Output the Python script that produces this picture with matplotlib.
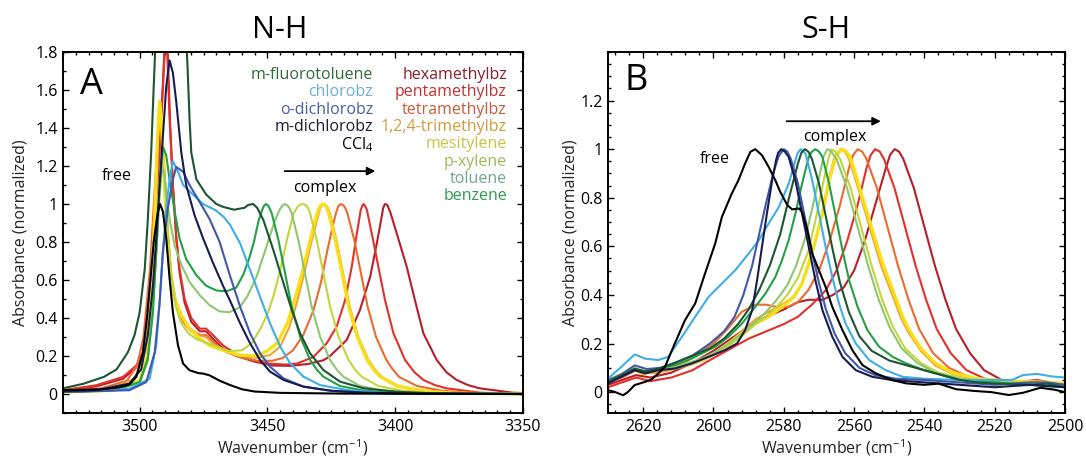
import matplotlib
matplotlib.use("Agg")
import matplotlib.pyplot as plt
from matplotlib.ticker import MultipleLocator, FuncFormatter

plt.rcParams['font.family'] = ['Open Sans', 'DejaVu Sans']
plt.rcParams['mathtext.fontset'] = 'custom'
plt.rcParams['mathtext.rm'] = 'Open Sans'
plt.rcParams['mathtext.it'] = 'Open Sans:italic'

# ---------------- solvent names and colours ----------------
solvents = ["hexamethylbz", "pentamethylbz", "tetramethylbz", "1,2,4-trimethylbz",
            "mesitylene", "p-xylene", "toluene", "benzene", "chlorobz",
            "o-dichlorobz", "m-fluorotoluene", "m-dichlorobz", "CCl4"]
line_colors = ["#b81e28", "#e4302a", "#ec6a2e", "#f2a22c", "#f7e01a", "#c2d63c",
               "#8ec86e", "#22a044", "#3eaee6", "#3f58aa", "#1c5530", "#161c50", "#000000"]
left_labels = ["m-fluorotoluene", "chlorobz", "o-dichlorobz", "m-dichlorobz", "CCl$_4$"]
left_label_colors = ["#2d6b3a", "#6aaed6", "#4a5ea8", "#1a1a30", "#000000"]
right_labels = ["hexamethylbz", "pentamethylbz", "tetramethylbz", "1,2,4-trimethylbz",
                "mesitylene", "p-xylene", "toluene", "benzene"]
right_label_colors = ["#8e1c2a", "#c4302e", "#cc5a3c", "#d49a38", "#c8c540",
                      "#9cbb55", "#6aa88a", "#2e9a4e"]

# ---------------- Panel A: N-H stretch (wavenumber, absorbance) ----------------
nh_ccl4 = [(3530,0.02),(3515,0.025),(3508,0.035),(3504,0.05),(3501.3,0.09),(3498.7,0.22),(3497,0.42),(3496,0.57),(3494.5,0.8),(3493,0.95),(3492,1.0),(3490.9,0.96),(3489.6,0.82),(3488.3,0.61),(3487,0.43),(3485,0.256),(3483,0.16),(3480.5,0.125),(3477,0.11),(3475,0.107),(3472.6,0.098),(3468.7,0.07),(3464.6,0.047),(3460,0.025),(3455,0.013),(3445,0.006),(3420,0.002),(3350,0.0)]
nh_mdcb = [(3530,0.015),(3517,0.02),(3504,0.055),(3499.4,0.13),(3496.8,0.31),(3494.8,0.57),(3493.5,0.82),(3492.2,1.10),(3490.9,1.36),(3489.6,1.62),(3488.3,1.756),(3487,1.69),(3485.7,1.54),(3483.7,1.27),(3481.8,1.10),(3478.5,0.94),(3475.2,0.82),(3471.3,0.69),(3467.4,0.57),(3464.6,0.49),(3460.7,0.372),(3456.8,0.267),(3452.9,0.179),(3449,0.118),(3443.7,0.074),(3436,0.039),(3425.5,0.018),(3412.4,0.007),(3390,0.002),(3350,0.0)]
nh_odcb = [(3530,0.01),(3504,0.02),(3497.4,0.063),(3494.1,0.22),(3492.2,0.48),(3490.9,0.75),(3489,0.975),(3487,1.13),(3485.7,1.195),(3483,1.17),(3480.5,1.10),(3476.5,1.01),(3472.6,0.92),(3468.7,0.80),(3464.6,0.62),(3460.7,0.46),(3456.8,0.32),(3452.9,0.214),(3449,0.144),(3443.7,0.082),(3436,0.039),(3425,0.016),(3412,0.006),(3390,0.001),(3350,0.0)]
nh_clbz = [(3530,0.015),(3504,0.028),(3496.1,0.08),(3493.5,0.256),(3492.2,0.48),(3490.9,0.75),(3489.6,0.975),(3488.3,1.13),(3487,1.225),(3485,1.17),(3483,1.10),(3479.2,1.05),(3475.2,1.0),(3470,0.965),(3467,0.93),(3464.6,0.89),(3460.7,0.793),(3456.8,0.653),(3452.9,0.512),(3449,0.372),(3445,0.249),(3441.1,0.161),(3435.9,0.091),(3429.4,0.047),(3419,0.021),(3406,0.007),(3385,0.001),(3350,0.0)]
nh_mft = [(3530,0.03),(3522,0.054),(3514,0.09),(3509,0.13),(3504.6,0.22),(3502,0.31),(3500,0.43),(3498,0.66),(3496.8,0.92),(3495.5,1.27),(3494.5,1.62),(3493.5,1.95),(3490,2.4),(3485,2.4),(3482,1.95),(3481.2,1.7),(3480.5,1.45),(3479.8,1.27),(3477.8,1.13),(3474,1.05),(3470,1.0),(3467.4,0.985),(3463,0.97),(3459,0.98),(3457.5,0.995),(3455.6,1.0),(3454,0.98),(3451.6,0.916),(3447.7,0.758),(3443.7,0.582),(3440.5,0.442),(3437.2,0.319),(3433.3,0.214),(3428.1,0.126),(3421.6,0.065),(3412.4,0.03),(3399.4,0.012),(3386.4,0.004),(3350,0.0)]
nh_benz = [(3530,0.01),(3510,0.02),(3500,0.063),(3496.8,0.186),(3494.8,0.43),(3493.5,0.75),(3492.2,1.10),(3490.9,1.30),(3489.6,1.256),(3488.3,1.13),(3486.3,0.96),(3484.4,0.82),(3481.8,0.71),(3477.8,0.625),(3474,0.57),(3470,0.545),(3466.1,0.54),(3462.2,0.56),(3459.4,0.63),(3457,0.72),(3455.3,0.80),(3453.5,0.91),(3452.3,0.96),(3451.4,0.99),(3450.6,1.0),(3449.6,0.99),(3448.3,0.95),(3445.7,0.81),(3443.1,0.635),(3440.5,0.46),(3437.2,0.302),(3433.3,0.179),(3430.5,0.125),(3428.1,0.091),(3421.6,0.042),(3412.4,0.018),(3399.4,0.004),(3350,0.0)]
nh_tol = [(3530,0.01),(3510,0.02),(3500,0.06),(3497,0.17),(3495,0.42),(3493.5,0.75),(3492.2,1.05),(3491.3,1.19),(3490.3,1.16),(3489.6,1.06),(3488.3,0.92),(3486.3,0.78),(3483.7,0.68),(3480.5,0.59),(3476.5,0.52),(3472.6,0.467),(3468.7,0.435),(3465,0.43),(3461,0.455),(3458,0.51),(3454.2,0.62),(3450.3,0.78),(3447,0.916),(3445,0.975),(3444,0.993),(3443.1,1.0),(3442,0.99),(3441.2,0.975),(3440.5,0.95),(3437.9,0.81),(3435.3,0.635),(3432.7,0.46),(3429.4,0.302),(3425.5,0.179),(3422.7,0.125),(3420.3,0.091),(3413.8,0.042),(3404.6,0.018),(3391.6,0.004),(3350,0.0)]
nh_pxy = [(3530,0.01),(3510,0.02),(3500,0.06),(3497,0.17),(3495,0.42),(3493.5,0.75),(3492.2,1.05),(3491.3,1.22),(3490.3,1.15),(3489.6,1.0),(3488.6,0.8),(3487.5,0.62),(3486,0.47),(3484,0.38),(3481,0.32),(3478,0.29),(3474,0.27),(3470,0.25),(3465,0.225),(3460,0.23),(3456,0.27),(3452.5,0.35),(3450,0.42),(3447.7,0.512),(3445,0.653),(3442.4,0.81),(3439.8,0.95),(3438.2,0.985),(3437.2,0.997),(3436.2,1.0),(3435,0.995),(3434.2,0.98),(3433.3,0.95),(3430.7,0.81),(3428.1,0.635),(3425.5,0.46),(3422.2,0.302),(3418.3,0.179),(3415.5,0.125),(3413.1,0.091),(3406.6,0.042),(3397.5,0.018),(3384.4,0.004),(3350,0.0)]
nh_mes = [(3530,0.01),(3510,0.02),(3500,0.07),(3497,0.2),(3495.5,0.5),(3494,0.95),(3493,1.35),(3492.2,1.54),(3491.5,1.45),(3490.9,1.27),(3489.6,0.92),(3488.3,0.66),(3486.3,0.5),(3483.7,0.414),(3480.5,0.344),(3476.5,0.29),(3472.6,0.256),(3467.4,0.23),(3461,0.205),(3455,0.2),(3450.3,0.225),(3446,0.27),(3442,0.38),(3439,0.51),(3436,0.66),(3433.3,0.81),(3431,0.93),(3430,0.97),(3429.2,0.993),(3428.4,1.0),(3427.4,0.993),(3426.6,0.975),(3426,0.95),(3423.4,0.81),(3420.8,0.635),(3418.2,0.46),(3414.9,0.302),(3411,0.179),(3408.2,0.125),(3405.8,0.091),(3399.3,0.042),(3390,0.018),(3377,0.004),(3350,0.0)]
nh_124 = [(3530,0.012),(3512,0.025),(3502,0.08),(3498,0.22),(3496,0.5),(3494.3,0.95),(3493,1.35),(3492.2,1.47),(3491.4,1.4),(3490.6,1.2),(3489.4,0.9),(3488,0.65),(3486,0.5),(3483.5,0.41),(3480.5,0.35),(3477,0.31),(3474,0.3),(3471,0.26),(3466,0.225),(3460,0.2),(3454,0.19),(3449,0.205),(3445,0.25),(3441.5,0.35),(3438.5,0.48),(3435.5,0.64),(3433,0.79),(3430.5,0.92),(3429.5,0.97),(3428.8,0.993),(3428,1.0),(3427,0.993),(3426.2,0.975),(3425.5,0.95),(3423,0.81),(3420.4,0.635),(3417.8,0.46),(3414.5,0.302),(3410.5,0.179),(3407.7,0.125),(3405.3,0.091),(3398.8,0.042),(3389.5,0.018),(3376.5,0.004),(3350,0.0)]
nh_tetra = [(3530,0.015),(3515,0.03),(3505,0.07),(3501,0.15),(3498.5,0.3),(3496,0.65),(3494,1.1),(3492.5,1.4),(3491.8,1.44),(3491,1.35),(3490,1.1),(3489,0.85),(3487.5,0.6),(3485.5,0.46),(3483,0.38),(3480,0.33),(3476,0.31),(3474,0.31),(3471,0.27),(3466,0.22),(3460,0.19),(3454,0.175),(3448,0.175),(3444,0.19),(3440,0.23),(3436,0.31),(3432,0.44),(3429,0.59),(3426.5,0.76),(3424,0.91),(3423,0.96),(3422.2,0.99),(3421.2,1.0),(3420.2,0.993),(3419.4,0.975),(3418.7,0.95),(3416,0.81),(3413.4,0.635),(3410.8,0.46),(3407.5,0.3),(3403.5,0.18),(3401,0.13),(3398.5,0.09),(3391.5,0.042),(3382,0.018),(3369,0.004),(3350,0.0)]
nh_penta = [(3530,0.02),(3517,0.046),(3506.5,0.09),(3501.3,0.15),(3498.7,0.22),(3496.1,0.57),(3494.1,0.92),(3492.2,1.27),(3490.9,1.62),(3490.2,1.8),(3489.6,1.95),(3489,1.71),(3488.3,1.45),(3487,1.10),(3485.7,0.835),(3484.4,0.66),(3482.4,0.5),(3479.8,0.4),(3476.5,0.344),(3474,0.344),(3471.3,0.31),(3467.4,0.256),(3462.2,0.21),(3455.7,0.177),(3449.2,0.16),(3443,0.155),(3438.5,0.16),(3432,0.195),(3426.8,0.267),(3422.9,0.355),(3419.6,0.495),(3417,0.67),(3415,0.846),(3413.5,0.968),(3412.9,0.99),(3412.4,1.0),(3411.8,0.99),(3411.1,0.97),(3409.2,0.846),(3406.6,0.67),(3404,0.495),(3400.7,0.32),(3396.2,0.18),(3392.5,0.115),(3389,0.074),(3384.5,0.047),(3379.9,0.03),(3366.8,0.007),(3350,0.0)]
nh_hexa = [(3530,0.02),(3517,0.04),(3506.5,0.08),(3501.3,0.14),(3498.7,0.21),(3496.5,0.5),(3494.5,0.85),(3492.5,1.25),(3491,1.6),(3490,1.9),(3489.5,2.0),(3488.8,1.7),(3488,1.4),(3487,1.1),(3485.7,0.82),(3484.4,0.64),(3482.4,0.48),(3479.8,0.38),(3476.5,0.33),(3474,0.33),(3471.3,0.29),(3467.4,0.24),(3462,0.2),(3455,0.17),(3448,0.15),(3441,0.148),(3434,0.158),(3428,0.178),(3425.5,0.2),(3419,0.284),(3413.8,0.442),(3409.8,0.617),(3407.2,0.793),(3405.3,0.933),(3404.7,0.98),(3404,1.0),(3403.1,0.995),(3402,0.96),(3399.4,0.845),(3395.5,0.67),(3392.3,0.495),(3389,0.32),(3383.8,0.18),(3380,0.115),(3376,0.074),(3371.5,0.047),(3367,0.03),(3354,0.007),(3350,0.005)]

# ---------------- Panel B: S-H stretch (wavenumber, absorbance) ----------------
sh_ccl4 = [(2630,0.008),(2628.1,0.001),(2625.7,-0.013),(2624.3,0.001),(2622.4,0.029),(2619.5,0.042),(2617.6,0.052),(2615.7,0.077),(2613.8,0.104),(2611,0.2),(2608.1,0.296),(2605.2,0.365),(2602.4,0.488),(2599.5,0.612),(2597.6,0.721),(2594.8,0.817),(2592.9,0.872),(2591,0.941),(2589.5,0.989),(2588.1,1.0),(2586.2,0.975),(2584.3,0.927),(2582.4,0.872),(2581,0.824),(2579,0.77),(2577.6,0.752),(2575.7,0.756),(2574.8,0.742),(2573.3,0.667),(2571.9,0.57),(2570,0.502),(2568.1,0.433),(2566.2,0.351),(2563.3,0.255),(2560.5,0.173),(2557.6,0.111),(2553.8,0.077),(2549,0.049),(2545.2,0.036),(2540,0.03),(2536,0.035),(2531,0.012),(2526,0.005),(2521,0.0),(2516,-0.012),(2512,-0.003),(2507,0.018),(2503,0.01),(2500,0.0)]
sh_mdcb = [(2630,0.036),(2626.2,0.063),(2622.4,0.09),(2619.5,0.077),(2615.7,0.09),(2611,0.097),(2606.2,0.118),(2601.4,0.145),(2596.7,0.173),(2593.3,0.2),(2591,0.255),(2589,0.337),(2587.6,0.46),(2586.2,0.598),(2584.8,0.735),(2583.3,0.872),(2582.2,0.954),(2581.6,0.985),(2580.7,1.0),(2579.7,0.99),(2578.6,0.968),(2576.7,0.872),(2574.8,0.735),(2572.9,0.598),(2571,0.46),(2569,0.337),(2566.2,0.228),(2563.3,0.145),(2559.5,0.09),(2554.8,0.063),(2549,0.049),(2540,0.04),(2530,0.03),(2520,0.02),(2510,0.03),(2505,0.025),(2500,0.02)]
sh_odcb = [(2630,0.045),(2626,0.075),(2622.4,0.11),(2619,0.095),(2615,0.1),(2611,0.12),(2606,0.15),(2601,0.2),(2597,0.25),(2594,0.31),(2591.5,0.4),(2589,0.52),(2587,0.65),(2585,0.78),(2583,0.9),(2581.5,0.97),(2580,1.0),(2579,0.99),(2578,0.96),(2576,0.86),(2574,0.72),(2572,0.58),(2570,0.45),(2568,0.34),(2565.5,0.24),(2562.5,0.16),(2558.5,0.1),(2554,0.07),(2548,0.055),(2540,0.05),(2530,0.04),(2520,0.03),(2510,0.04),(2505,0.04),(2500,0.03)]
sh_clbz = [(2630,0.056),(2626.2,0.104),(2622.4,0.155),(2619.5,0.138),(2615.7,0.132),(2612.9,0.145),(2609,0.227),(2605.2,0.31),(2601.4,0.392),(2597.6,0.447),(2593.8,0.502),(2590,0.57),(2587.1,0.625),(2584.3,0.694),(2581.4,0.762),(2578.6,0.858),(2576.7,0.954),(2576,0.985),(2575.2,1.0),(2573.8,0.982),(2571.9,0.872),(2570,0.735),(2568.1,0.598),(2566.2,0.474),(2564.3,0.365),(2562.4,0.282),(2559.5,0.2),(2555.7,0.132),(2551,0.09),(2546.2,0.063),(2540,0.055),(2530,0.05),(2520,0.05),(2515,0.05),(2512,0.07),(2508,0.075),(2504,0.065),(2500,0.06)]
sh_mft = [(2630,0.04),(2626,0.07),(2622.4,0.095),(2619,0.085),(2615,0.1),(2611,0.12),(2606,0.15),(2601,0.18),(2597,0.22),(2593,0.28),(2590,0.34),(2587,0.42),(2584,0.52),(2581,0.65),(2578.5,0.8),(2576,0.94),(2575,0.985),(2574,1.0),(2573,0.99),(2572,0.96),(2570,0.86),(2568,0.72),(2566,0.58),(2564,0.45),(2561.5,0.33),(2558.5,0.23),(2555,0.17),(2550,0.13),(2545,0.11),(2540,0.09),(2535,0.07),(2530,0.05),(2525,0.04),(2520,0.035),(2510,0.03),(2505,0.035),(2500,0.02)]
sh_benz = [(2630,0.05),(2626.2,0.07),(2622.4,0.097),(2619.5,0.084),(2615.7,0.097),(2611,0.111),(2607.1,0.132),(2603.3,0.159),(2599.5,0.187),(2595.7,0.228),(2591.9,0.282),(2588.1,0.351),(2585.2,0.406),(2582.4,0.474),(2580.5,0.543),(2578.6,0.625),(2576.7,0.735),(2574.8,0.858),(2572.9,0.968),(2572,0.99),(2571,1.0),(2570,0.99),(2569,0.968),(2567.1,0.858),(2565.2,0.721),(2563.3,0.584),(2561.4,0.46),(2559,0.351),(2556.2,0.255),(2552.9,0.187),(2549,0.145),(2545.2,0.118),(2540,0.09),(2535,0.07),(2530,0.05),(2520,0.04),(2510,0.03),(2500,0.02)]
sh_tol = [(2630,0.045),(2626.2,0.07),(2622.4,0.095),(2619.5,0.08),(2615.7,0.09),(2611,0.105),(2607,0.12),(2603,0.14),(2599.5,0.165),(2595.7,0.2),(2592,0.24),(2588,0.29),(2585,0.33),(2582,0.38),(2579,0.44),(2576.5,0.52),(2574,0.63),(2572,0.75),(2570,0.88),(2568.7,0.97),(2567.6,1.0),(2566.5,0.99),(2565,0.96),(2562,0.84),(2559,0.68),(2556,0.52),(2553,0.38),(2550,0.27),(2546.5,0.18),(2542,0.12),(2537,0.08),(2530,0.055),(2520,0.04),(2510,0.035),(2500,0.03)]
sh_pxy = [(2630,0.05),(2626.2,0.075),(2622.4,0.1),(2619.5,0.085),(2615.7,0.092),(2611,0.1),(2607,0.115),(2603,0.135),(2599.5,0.16),(2595.7,0.19),(2592,0.23),(2588,0.28),(2585,0.31),(2582,0.35),(2579,0.4),(2576,0.47),(2573,0.58),(2570.8,0.72),(2568.8,0.86),(2567.3,0.96),(2566.5,1.0),(2565.3,0.99),(2564,0.96),(2561,0.84),(2558,0.68),(2555,0.52),(2552,0.38),(2549,0.27),(2545.5,0.18),(2541,0.12),(2536,0.08),(2529,0.055),(2520,0.045),(2510,0.04),(2500,0.03)]
sh_mes = [(2630,0.05),(2626.2,0.07),(2622.4,0.097),(2620.5,0.077),(2615.7,0.09),(2611,0.104),(2607.1,0.118),(2603.3,0.132),(2599.5,0.159),(2595.7,0.2),(2591.9,0.241),(2588.1,0.282),(2584.3,0.31),(2580.5,0.351),(2577.1,0.392),(2574.8,0.447),(2572.9,0.53),(2571,0.625),(2569,0.735),(2567.1,0.872),(2565.2,0.968),(2564.2,0.99),(2563.3,1.0),(2562.2,0.99),(2561.3,0.97),(2560.5,0.94),(2557.6,0.8),(2554.8,0.666),(2551.9,0.53),(2549,0.42),(2546.2,0.31),(2544.3,0.255),(2541,0.18),(2537,0.12),(2532,0.08),(2525,0.055),(2515,0.045),(2505,0.04),(2500,0.035)]
sh_124 = [(2630,0.04),(2626.2,0.065),(2622.4,0.09),(2620,0.075),(2615.7,0.08),(2611,0.095),(2607,0.11),(2603,0.13),(2599.5,0.16),(2595.7,0.2),(2592,0.25),(2588,0.3),(2584.3,0.33),(2580.5,0.36),(2577.5,0.39),(2575,0.44),(2573,0.52),(2571,0.62),(2569,0.74),(2567.3,0.87),(2565.5,0.97),(2563.8,1.0),(2562.7,0.99),(2561.8,0.97),(2561,0.94),(2558,0.8),(2555.2,0.66),(2552.3,0.52),(2549.4,0.41),(2546.5,0.3),(2544.5,0.245),(2541,0.17),(2537,0.11),(2532,0.075),(2525,0.05),(2515,0.04),(2505,0.04),(2500,0.035)]
sh_tetra = [(2630,0.04),(2626,0.06),(2622,0.09),(2618,0.08),(2612,0.1),(2606,0.14),(2600,0.2),(2596,0.26),(2592,0.33),(2588,0.36),(2585,0.36),(2582,0.35),(2579,0.35),(2576,0.37),(2573,0.42),(2570,0.5),(2567,0.62),(2564,0.77),(2561.5,0.92),(2560.3,0.975),(2559,1.0),(2557.7,0.99),(2556.5,0.96),(2553.5,0.84),(2550.5,0.68),(2547.5,0.52),(2544.5,0.38),(2541.5,0.26),(2537.5,0.16),(2533,0.1),(2527,0.06),(2520,0.04),(2512,0.03),(2506,0.04),(2500,0.03)]
sh_penta = [(2630,0.02),(2626,0.04),(2622,0.06),(2618,0.045),(2612,0.06),(2606,0.09),(2600,0.14),(2595,0.18),(2590,0.22),(2585,0.25),(2580,0.28),(2576,0.31),(2572,0.36),(2568,0.42),(2565,0.5),(2562,0.62),(2559,0.77),(2556.5,0.92),(2555.3,0.975),(2554,1.0),(2552.7,0.99),(2551.5,0.96),(2548.5,0.84),(2545.5,0.68),(2542.5,0.52),(2539.5,0.38),(2536.5,0.26),(2532.5,0.16),(2528,0.09),(2522,0.05),(2515,0.04),(2508,0.05),(2504,0.04),(2500,0.03)]
sh_hexa = [(2630,0.03),(2626,0.05),(2622,0.07),(2618,0.06),(2612,0.08),(2606,0.12),(2600,0.17),(2595,0.22),(2590,0.27),(2585,0.31),(2580,0.34),(2576,0.37),(2573,0.38),(2569,0.38),(2566,0.4),(2563,0.43),(2560,0.5),(2557,0.62),(2554,0.77),(2551,0.92),(2549.8,0.975),(2548.5,1.0),(2547.2,0.99),(2546,0.96),(2543,0.84),(2540,0.68),(2537,0.52),(2534,0.38),(2531,0.26),(2527,0.16),(2523,0.09),(2518,0.05),(2512,0.04),(2506,0.035),(2500,0.03)]

nh_curves = [nh_hexa, nh_penta, nh_tetra, nh_124, nh_mes, nh_pxy, nh_tol, nh_benz,
             nh_clbz, nh_odcb, nh_mft, nh_mdcb, nh_ccl4]
sh_curves = [sh_hexa, sh_penta, sh_tetra, sh_124, sh_mes, sh_pxy, sh_tol, sh_benz,
             sh_clbz, sh_odcb, sh_mft, sh_mdcb, sh_ccl4]

# ---------------- figure ----------------
fig = plt.figure(figsize=(10.86, 4.62), dpi=100)
axA = fig.add_axes([63/1086, 49/462, 460/1086, 361/462])
axB = fig.add_axes([608/1086, 49/462, 457/1086, 361/462])

fmt = FuncFormatter(lambda v, p: f"{v:g}" if abs(v) > 1e-9 else "0")

for ax, curves in ((axA, nh_curves), (axB, sh_curves)):
    for name, pts, col in zip(solvents, curves, line_colors):
        xs = [p[0] for p in pts]
        ys = [p[1] for p in pts]
        lw = 2.4 if name == "mesitylene" else 1.5
        ax.plot(xs, ys, color=col, lw=lw, solid_joinstyle='round')
    ax.tick_params(which='both', direction='in', top=True, right=True, labelsize=11.5,
                   width=1.0, pad=4, colors='black')
    ax.tick_params(which='major', length=4.5)
    ax.tick_params(which='minor', length=2.5)
    ax.yaxis.set_major_formatter(fmt)
    for s in ax.spines.values():
        s.set_linewidth(1.4)

axA.set_xlim(3530, 3350)
axA.set_ylim(-0.1, 1.8)
axA.xaxis.set_major_locator(MultipleLocator(50))
axA.xaxis.set_minor_locator(MultipleLocator(5))
axA.yaxis.set_major_locator(MultipleLocator(0.2))
axA.yaxis.set_minor_locator(MultipleLocator(0.1))

axB.set_xlim(2630, 2500)
axB.set_ylim(-0.086, 1.4)
axB.xaxis.set_major_locator(MultipleLocator(20))
axB.xaxis.set_minor_locator(MultipleLocator(4))
axB.yaxis.set_major_locator(MultipleLocator(0.2))
axB.yaxis.set_minor_locator(MultipleLocator(0.05))
axB.set_yticks([0, 0.2, 0.4, 0.6, 0.8, 1.0, 1.2])

# axis labels
for ax, xl in ((axA, -0.093), (axB, -0.083)):
    ax.text(xl, 0.5, "Absorbance (normalized)", transform=ax.transAxes, rotation=90,
            ha='center', va='center', fontsize=11.5, color='#222222')
    ax.text(0.5, -0.097, "Wavenumber (cm$^{-1}$)", transform=ax.transAxes,
            ha='center', va='center', fontsize=11.5, color='#222222')

# titles
fig.text(280/1086, 1 - 30/462, "N-H", ha='center', va='center', fontsize=22)
fig.text(826/1086, 1 - 30/462, "S-H", ha='center', va='center', fontsize=22)

# panel letters
axA.text(0.037, 0.909, "A", transform=axA.transAxes, ha='left', va='center', fontsize=26)
axB.text(0.037, 0.92, "B", transform=axB.transAxes, ha='left', va='center', fontsize=26)

# solvent labels (panel A)
for i, (t, c) in enumerate(zip(left_labels, left_label_colors)):
    axA.text(0.674, 0.936 - 0.0479 * i, t, transform=axA.transAxes, ha='right',
             va='center', fontsize=11.5, color=c)
for i, (t, c) in enumerate(zip(right_labels, right_label_colors)):
    axA.text(0.965, 0.936 - 0.0479 * i, t, transform=axA.transAxes, ha='right',
             va='center', fontsize=11.5, color=c)

# free / complex annotations
axA.text(0.117, 0.657, "free", transform=axA.transAxes, ha='center', va='center', fontsize=11.5)
axA.annotate("", xy=(0.685, 0.670), xytext=(0.476, 0.670), xycoords=axA.transAxes,
             arrowprops=dict(arrowstyle='-|>', color='black', lw=1.3, mutation_scale=12))
axA.text(0.57, 0.623, "complex", transform=axA.transAxes, ha='center', va='center', fontsize=11.5)

axB.text(2599.7, 0.96, "free", ha='center', va='center', fontsize=11.5)
axB.annotate("", xy=(2551.6, 1.115), xytext=(2580, 1.115),
             arrowprops=dict(arrowstyle='-|>', color='black', lw=1.3, mutation_scale=12))
axB.text(2565.4, 1.05, "complex", ha='center', va='center', fontsize=11.5)

fig.savefig("out.png", dpi=100)
